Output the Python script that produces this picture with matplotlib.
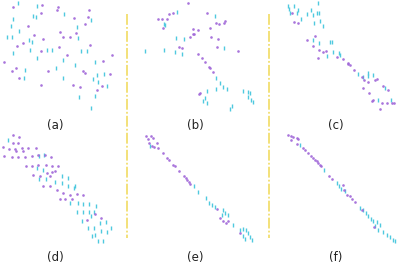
import matplotlib
matplotlib.use("Agg")
import matplotlib.pyplot as plt
import numpy as np

PURPLE = "#a066d8"
CYAN = "#4fc9df"
YELLOW = "#f2de6e"

labels = ["(a)", "(b)", "(c)", "(d)", "(e)", "(f)"]

# point positions (in 3x zoom units, local to each panel)
a_purple = [(38,20),(127,16),(175,22),(170,30),(268,30),(122,40),(222,55),(265,50),(85,78),(256,72),
            (180,97),(228,98),(103,104),(190,112),(210,112),(130,118),(68,128),(50,138),(270,135),
            (178,140),(122,152),(202,165),(335,165),(12,186),(308,183),(48,205),(35,213),(145,212),
            (250,213),(255,218),(330,222),(57,233),(122,255),(220,256),(240,262),(305,258),(290,270)]
a_cyan = [(55,8),(110,18),(98,48),(107,50),(193,42),(272,60),(40,58),(33,78),(232,80),(58,92),
          (20,112),(35,112),(233,113),(87,121),(95,126),(38,158),(90,150),(140,150),(155,150),
          (243,152),(260,152),(112,173),(190,180),(285,185),(225,195),(75,210),(168,205),(292,225),
          (312,222),(72,233),(188,233),(278,238),(295,245),(320,258),(285,288),(237,292),(272,325)]

b_purple = [(175,10),(117,42),(128,38),(232,40),(85,58),(95,58),(110,57),(285,62),(283,68),(258,70),
            (268,72),(98,85),(240,85),(190,88),(205,90),(188,103),(193,103),(180,112),(243,110),
            (263,118),(260,140),(148,142),(155,145),(325,153),(205,162),(215,175),(225,187),
            (238,200),(240,205),(248,217),(210,278),(207,282)]
b_cyan = [(140,35),(255,48),(103,72),(105,75),(138,115),(163,116),(282,145),(45,153),(103,150),
          (135,156),(157,162),(258,235),(270,250),(280,260),(292,266),(258,268),(230,272),
          (340,272),(355,275),(360,280),(355,290),(362,300),(368,306),(225,293),(218,302),
          (230,310),(305,318),(300,326)]

c_purple = [(82,40),(87,65),(100,68),(150,108),(125,120),(143,138),(163,150),(175,155),(182,153),
            (158,175),(215,170),(235,178),(248,190),(250,192),(255,195),(268,210),(290,230),
            (298,240),(310,247),(330,240),(335,238),(355,258),(295,265),(368,270),(312,280),
            (325,300),(322,302),(350,308),(365,310),(382,308),(388,310),(345,327)]
c_cyan = [(68,18),(88,18),(160,8),(72,28),(98,30),(95,38),(75,38),(138,30),(145,45),(125,42),
          (155,40),(162,40),(108,58),(165,62),(175,78),(148,68),(145,120),(163,128),(195,125),
          (200,125),(205,155),(223,158),(225,165),(185,168),(280,222),(295,230),(310,218),
          (310,228),(325,225),(360,265),(338,300),(378,300)]

d_purple = [(38,5),(57,12),(40,30),(55,30),(10,42),(28,48),(45,48),(65,45),(85,45),(108,45),
            (70,55),(48,55),(12,68),(35,73),(55,73),(75,72),(95,68),(115,65),(135,67),(152,72),
            (78,100),(95,100),(115,95),(138,95),(155,98),(173,98),(98,125),(120,130),(140,120),
            (155,118),(165,115),(150,130),(128,158),(150,160),(170,170),(190,180),(210,185),
            (230,182),(248,186),(180,198),(195,198),(215,197),(285,243),(302,256),(262,260)]
d_cyan = [(23,20),(118,68),(133,67),(112,105),(130,112),(118,137),(138,137),(185,128),(205,135),
          (165,148),(185,150),(205,158),(225,158),(223,165),(210,210),(233,210),(250,213),
          (268,213),(288,220),(230,238),(248,237),(268,237),(272,250),(282,238),(245,263),
          (263,285),(282,285),(300,270),(318,268),(320,296),(302,294),(285,305),(295,325),
          (310,323),(333,285),(275,310)]

e_purple = [(47,8),(55,18),(62,10),(70,15),(58,30),(65,40),(72,42),(80,30),(85,45),(100,60),
            (112,75),(118,80),(130,95),(135,100),(148,113),(162,130),(168,135),(172,140),
            (178,148),(180,152),(260,228),(270,255),(278,265),(288,270),(295,265),(330,300)]
e_cyan = [(60,38),(193,160),(205,178),(228,195),(238,210),(245,215),(255,222),(278,232),
          (285,240),(295,245),(275,245),(310,275),(330,290),(340,288),(348,292),(355,300),
          (340,310),(345,318),(360,312),(365,322)]

f_purple = [(70,5),(78,8),(85,12),(95,15),(98,18),(78,20),(95,33),(115,45),(120,50),(130,60),
            (138,70),(145,75),(150,82),(155,85),(160,90),(165,95),(168,100),(192,128),(202,138),
            (233,155),(237,170),(245,185),(255,190),(260,197),(270,208),(290,230),(328,282)]
f_cyan = [(105,35),(178,110),(215,150),(222,160),(228,168),(240,175),(285,225),(295,232),
          (302,240),(310,248),(318,258),(325,265),(335,268),(345,275),(330,280),(340,290),
          (355,298),(365,305),(375,312),(385,320),(390,325)]

panels = [(a_purple, a_cyan), (b_purple, b_cyan), (c_purple, c_cyan),
          (d_purple, d_cyan), (e_purple, e_cyan), (f_purple, f_cyan)]

W, H = 400, 266
fig = plt.figure(figsize=(4, 2.66), dpi=100)

# panel pixel regions (x0, y0, w, h) in figure pixels (top-left origin)
regions = [(0, 0, 130, 133), (130, 0, 135, 133), (265, 0, 135, 133),
           (0, 133, 130, 133), (130, 133, 135, 133), (265, 133, 135, 133)]
label_pos = [(55, 125), (195, 125), (336, 125), (55, 257), (195, 257), (336, 257)]

for (x0, y0, w, h), (pp, cc) in zip(regions, panels):
    ax = fig.add_axes([x0 / W, 1 - (y0 + h) / H, w / W, h / H])
    ax.set_xlim(0, 3 * w)
    ax.set_ylim(3 * h, 0)
    ax.axis("off")
    cx, cy = zip(*cc)
    ax.plot(cx, cy, linestyle="none", marker="|", markersize=2.4, mew=1.0, color=CYAN)
    px, py = zip(*pp)
    ax.plot(px, py, linestyle="none", marker="o", markersize=1.9, mew=0, color=PURPLE, alpha=0.9)

top = fig.add_axes([0, 0, 1, 1], zorder=-1)
top.set_xlim(0, W)
top.set_ylim(H, 0)
top.axis("off")
for xv in (127, 269):
    top.plot([xv, xv], [14, 238], color=YELLOW, lw=1.3, linestyle=(0, (6, 1.2, 1, 1.2)))
for lab, (lx, ly) in zip(labels, label_pos):
    top.text(lx, ly, lab, ha="center", va="center", fontsize=8.5, color="#222222",
             family="DejaVu Sans")

fig.savefig("out.png", dpi=100)
